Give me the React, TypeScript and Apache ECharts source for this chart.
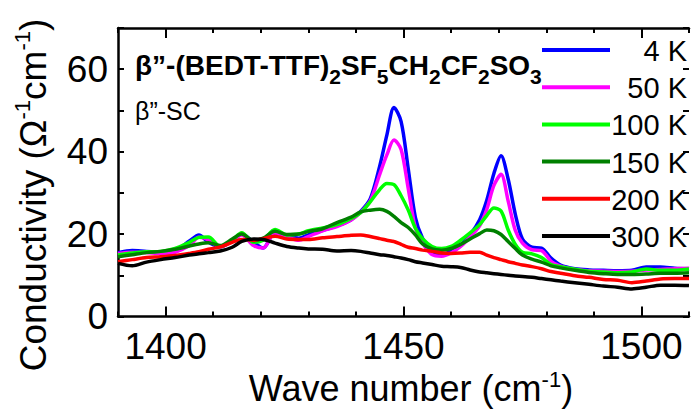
import React, { useEffect, useRef } from "react";
import * as echarts from "echarts";

// Wave numbers (cm^-1) at which the spectra were read
const wavenumbers = [
  1390, 1393, 1396, 1399, 1402, 1405, 1407, 1409, 1411.5, 1414,
  1416, 1418.5, 1420.5, 1423, 1425.5, 1428, 1430, 1433, 1436, 1439,
  1441, 1443, 1445, 1446.5, 1448, 1449.5, 1451, 1452.5, 1454, 1456,
  1458, 1460, 1462, 1464, 1466, 1467.5, 1469, 1470.5, 1472, 1473.5,
  1475, 1477, 1479, 1481, 1483, 1486, 1489, 1492, 1495, 1498,
  1501, 1504, 1507, 1510,
];

const temperatures = ["4 K", "50 K", "100 K", "150 K", "200 K", "300 K"];
const seriesColors = ["#0000ff", "#ff00ff", "#00ff00", "#008000", "#ff0000", "#000000"];

const sigma4K = [
  15.5, 16.0, 15.8, 15.7, 16.0, 18.3, 19.8, 18.0, 16.9, 18.5,
  20.0, 18.0, 16.6, 20.3, 19.6, 19.0, 19.8, 20.9, 22.0, 23.5,
  25.5, 28.5, 36.5, 44.0, 50.7, 47.3, 35.8, 24.0, 19.0, 15.5,
  15.0, 15.8, 17.3, 19.8, 23.5, 28.2, 34.7, 39.0, 33.3, 24.8,
  18.8, 16.8, 16.6, 14.2, 12.5, 11.6, 11.3, 11.2, 11.1, 11.2,
  12.0, 12.0, 11.7, 11.5,
];
const sigma50K = [
  15.3, 15.6, 15.5, 15.3, 15.6, 17.2, 19.2, 18.6, 16.9, 18.3,
  19.8, 17.2, 16.6, 20.3, 19.3, 18.5, 19.4, 20.8, 21.8, 23.4,
  25.3, 28.0, 34.5, 39.2, 42.8, 40.5, 31.0, 21.5, 17.8, 15.0,
  14.6, 15.4, 17.0, 19.3, 22.0, 26.0, 31.8, 34.5, 28.0, 20.9,
  17.8, 16.2, 16.0, 13.4, 12.2, 11.4, 11.1, 11.0, 10.9, 11.0,
  11.3, 11.4, 11.6, 11.7,
];
const sigma100K = [
  14.9, 15.4, 15.7, 15.8, 16.5, 18.0, 19.2, 19.3, 17.0, 18.5,
  20.3, 18.0, 18.5, 21.1, 19.8, 20.0, 20.8, 21.5, 22.3, 23.8,
  25.2, 27.8, 30.8, 32.3, 32.0, 29.3, 25.8, 21.4, 18.9, 17.0,
  16.5, 17.0, 18.5, 20.3, 22.3, 24.5, 26.3, 25.6, 21.0, 17.5,
  15.6, 15.2, 14.3, 12.6, 12.1, 11.5, 11.0, 10.8, 10.6, 10.8,
  11.5, 11.2, 11.2, 11.5,
];
const sigma150K = [
  14.5, 15.0, 15.5, 15.8, 16.3, 17.1, 17.6, 17.9, 17.2, 18.8,
  20.0, 18.4, 19.0, 20.7, 19.9, 20.0, 20.6, 21.3, 22.8, 24.1,
  25.4, 25.8, 26.0, 25.5, 24.3, 22.8, 21.6, 19.8, 17.6, 16.4,
  16.1, 16.5, 17.5, 18.8, 20.1, 21.0, 20.8, 19.9, 18.2, 16.5,
  14.9, 13.9, 13.2, 12.3, 11.8, 11.2, 10.7, 10.4, 10.2, 10.2,
  10.3, 10.5, 10.5, 10.6,
];
const sigma200K = [
  13.3, 13.8, 14.3, 14.5, 14.8, 15.3, 15.7, 16.3, 16.9, 18.0,
  18.7, 18.5, 18.9, 19.5, 18.8, 18.7, 18.7, 19.1, 19.4, 19.7,
  19.8, 19.4, 18.9, 18.5, 18.2, 17.5, 16.8, 16.5, 16.1, 15.8,
  15.4, 15.3, 15.4, 15.6, 15.6, 14.9, 14.3, 13.8, 13.3, 12.9,
  12.5, 12.1, 11.6, 10.9, 10.5, 9.9, 9.5, 9.0, 8.8, 8.2,
  8.6, 9.1, 9.2, 9.2,
];
const sigma300K = [
  12.9, 12.3, 13.2, 13.8, 14.3, 14.9, 15.2, 15.5, 15.9, 16.8,
  18.2, 18.8, 18.7, 17.8, 17.0, 16.6, 16.4, 16.3, 15.9, 16.0,
  15.8, 15.4, 15.0, 14.8, 14.5, 14.2, 13.8, 13.3, 13.0, 12.6,
  12.2, 12.1, 11.9, 11.3, 10.8, 10.6, 10.4, 10.2, 10.0, 9.8,
  9.7, 9.5, 9.2, 8.9, 8.6, 8.2, 7.8, 7.4, 7.1, 6.7,
  7.1, 7.6, 7.6, 7.5,
];
const allSpectra = [sigma4K, sigma50K, sigma100K, sigma150K, sigma200K, sigma300K];

const xTickLabels = [1400, 1450, 1500];
const yTickLabels = [0, 20, 40, 60];

const FONT = "'Liberation Sans', Arial, Helvetica, sans-serif";

export default function App() {
  const ref = useRef<HTMLDivElement>(null);

  useEffect(() => {
    if (!ref.current) return;
    const chart = echarts.init(ref.current, null, { renderer: "svg" });

    const lineStyle = { color: "#000", width: 2.5 };
    const tickStyle = { color: "#000", width: 2 };
    const xBase = { type: "value", min: 1390, max: 1510, splitLine: { show: false } };
    const yBase = { type: "value", min: 0, max: 70, interval: 10, splitLine: { show: false } };

    const legendGraphics: any[] = [];
    temperatures.forEach((t, i) => {
      const y = 50 + i * 37.2;
      legendGraphics.push({
        type: "line",
        shape: { x1: 542, y1: y, x2: 610, y2: y },
        style: { stroke: seriesColors[i], lineWidth: 4 },
        z: 10,
      });
      legendGraphics.push({
        type: "text",
        x: 687,
        y: y + 1,
        style: {
          text: t,
          fill: "#000",
          fontSize: 29,
          fontFamily: FONT,
          align: "right",
          verticalAlign: "middle",
        },
        z: 10,
      });
    });

    const option: any = {
      animation: false,
      backgroundColor: "#ffffff",
      grid: { left: 118, top: 28, right: 0, bottom: 95.5, containLabel: false },
      xAxis: [
        {
          ...xBase,
          position: "bottom",
          interval: 10,
          axisLine: { show: true, lineStyle },
          axisTick: { show: true, inside: true, length: 5, lineStyle: tickStyle },
          axisLabel: {
            show: true,
            formatter: (v: number) => (xTickLabels.includes(v) ? String(v) : ""),
            fontSize: 37,
            color: "#000",
            fontFamily: FONT,
            margin: 11,
          },
        },
        {
          ...xBase,
          position: "bottom",
          axisLine: { show: false },
          axisLabel: { show: false },
          axisTick: { show: true, inside: true, length: 10, customValues: xTickLabels, lineStyle: tickStyle },
        },
        {
          ...xBase,
          position: "top",
          interval: 10,
          axisLine: { show: true, lineStyle },
          axisTick: { show: true, inside: true, length: 5, lineStyle: tickStyle },
          axisLabel: { show: false },
        },
        {
          ...xBase,
          position: "top",
          axisLine: { show: false },
          axisLabel: { show: false },
          axisTick: { show: true, inside: true, length: 10, customValues: xTickLabels, lineStyle: tickStyle },
        },
      ],
      yAxis: [
        {
          ...yBase,
          position: "left",
          axisLine: { show: true, lineStyle },
          axisTick: { show: true, inside: true, length: 6, lineStyle: tickStyle },
          axisLabel: {
            show: true,
            formatter: (v: number) => (yTickLabels.includes(v) ? String(v) : ""),
            fontSize: 37,
            color: "#000",
            fontFamily: FONT,
            margin: 10,
          },
        },
        {
          ...yBase,
          position: "right",
          axisLine: { show: false },
          axisTick: { show: true, inside: true, length: 6, lineStyle: tickStyle },
          axisLabel: { show: false },
        },
      ],
      series: temperatures.map((t, i) => ({
        name: t,
        type: "line",
        xAxisIndex: 0,
        yAxisIndex: 0,
        data: wavenumbers.map((w, j) => [w, allSpectra[i][j]]),
        symbol: "none",
        showSymbol: false,
        smooth: 0.3,
        clip: true,
        lineStyle: { color: seriesColors[i], width: 3.5 },
        itemStyle: { color: seriesColors[i] },
        z: 2 + i,
      })),
      graphic: [
        {
          type: "text",
          x: 135,
          y: 51,
          z: 10,
          style: {
            text: "{b|β”-(BEDT-TTF)}{s|2}{b|SF}{s|5}{b|CH}{s|2}{b|CF}{s|2}{b|SO}{s|3}",
            align: "left",
            verticalAlign: "top",
            rich: {
              b: { fontSize: 28, fontWeight: "bold", fontFamily: FONT, lineHeight: 32, verticalAlign: "top", fill: "#000" },
              s: { fontSize: 21, fontWeight: "bold", fontFamily: FONT, lineHeight: 21, verticalAlign: "top", padding: [15, 0, 0, 0], fill: "#000" },
            },
          },
        },
        {
          type: "text",
          x: 135,
          y: 111,
          z: 10,
          style: { text: "β”-SC", fontSize: 25, fontFamily: FONT, fill: "#000", align: "left", verticalAlign: "middle" },
        },
        {
          type: "text",
          x: 31,
          y: 195,
          rotation: Math.PI / 2,
          z: 10,
          style: {
            text: "{m|Conductivity (Ω}{u|-1}{m|cm}{u|-1}{m|)}",
            align: "center",
            verticalAlign: "middle",
            rich: {
              m: { fontSize: 37, fontFamily: FONT, lineHeight: 40, padding: [4, 0, 0, 0], verticalAlign: "top", fill: "#000" },
              u: { fontSize: 22, fontFamily: FONT, lineHeight: 22, verticalAlign: "top", fill: "#000" },
            },
          },
        },
        {
          type: "text",
          x: 411,
          y: 388,
          z: 10,
          style: {
            text: "{m|Wave number (cm}{u|-1}{m|)}",
            align: "center",
            verticalAlign: "middle",
            rich: {
              m: { fontSize: 36, fontFamily: FONT, lineHeight: 40, padding: [2, 0, 0, 0], verticalAlign: "top", fill: "#000" },
              u: { fontSize: 22, fontFamily: FONT, lineHeight: 22, verticalAlign: "top", fill: "#000" },
            },
          },
        },
        ...legendGraphics,
      ],
    };

    chart.setOption(option);
    return () => {
      chart.dispose();
    };
  }, []);

  return (
    <div
      ref={ref}
      style={{ position: "fixed", left: 0, top: 0, width: 692, height: 412, background: "#fff" }}
    />
  );
}
